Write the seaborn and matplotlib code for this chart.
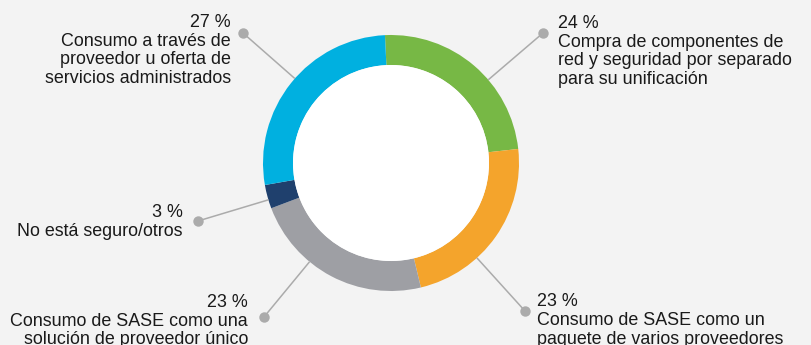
import numpy as np
import matplotlib
matplotlib.use("Agg")
import matplotlib.pyplot as plt
from matplotlib.patches import Circle
import seaborn as sns

# ---- data ----
categories = [
    "Compra de componentes de\nred y seguridad por separado\npara su unificación",
    "Consumo de SASE como un\npaquete de varios proveedores",
    "Consumo de SASE como una\nsolución de proveedor único",
    "No está seguro/otros",
    "Consumo a través de\nproveedor u oferta de\nservicios administrados",
]
values = [24, 23, 23, 3, 27]
value_labels = ["24 %", "23 %", "23 %", "3 %", "27 %"]
colors = ["#77B845", "#F4A42C", "#9E9FA4", "#1F406D", "#00B0E0"]

# ---- layout (pixel coordinates, y measured from top) ----
W, H = 812, 345
BG = "#F3F3F3"
cx, cy = 391, 163
R_OUT, R_IN = 128, 98
dots = [(543, 33), (525, 311), (264, 317), (198, 221), (243, 33)]
text_anchor = [(558, 28, "left"), (537, 306.5, "left"), (248, 307, "right"),
               (183, 217, "right"), (231, 27, "right")]
LINE_STEP = 18.6

sns.set_theme(style="white")
plt.rcParams["font.family"] = ["Liberation Sans", "DejaVu Sans"]

fig = plt.figure(figsize=(W / 100, H / 100), dpi=100, facecolor=BG)
ax = fig.add_axes([0, 0, 1, 1])
ax.set_facecolor(BG)


def Y(y):
    return H - y


ax.pie(values, colors=colors, startangle=92.7, counterclock=False,
       radius=R_OUT, center=(cx, Y(cy)),
       wedgeprops=dict(width=R_OUT - R_IN, linewidth=0, edgecolor="none"))
ax.add_patch(Circle((cx, Y(cy)), R_IN, facecolor="white", edgecolor="none", zorder=3))

line_col = "#ABABAB"
for (dx, dy), (tx, ty, ha), pct, cat in zip(dots, text_anchor, value_labels, categories):
    vx, vy = dx - cx, dy - cy
    d = np.hypot(vx, vy)
    sx, sy = cx + R_OUT * vx / d, cy + R_OUT * vy / d
    ax.plot([sx, dx], [Y(sy), Y(dy)], color=line_col, lw=1.1, zorder=1,
            solid_capstyle="butt")
    ax.plot([dx], [Y(dy)], marker="o", ms=7.5, color=line_col, mec="none", zorder=2)
    lines = [pct] + cat.split("\n")
    for i, t in enumerate(lines):
        ax.text(tx, Y(ty + i * LINE_STEP), t, ha=ha, va="baseline",
                fontsize=12.9, color="#1A1A1A")

ax.set_xlim(0, W)
ax.set_ylim(0, H)
ax.set_aspect("equal")
ax.axis("off")

fig.savefig("out.png", dpi=100, facecolor=BG)
